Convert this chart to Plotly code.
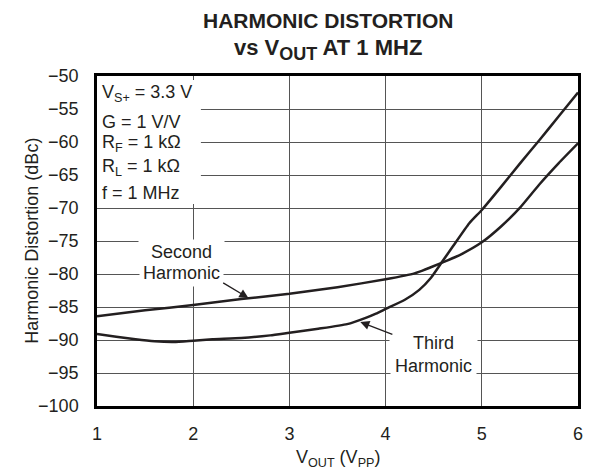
import plotly.graph_objects as go

# ---- data ----
x_tick_vals = [1, 2, 3, 4, 5, 6]
y_tick_vals = [-100, -95, -90, -85, -80, -75, -70, -65, -60, -55, -50]

second_vout = [1.0, 1.5, 2.0, 2.5, 3.0, 3.5, 4.0, 4.3, 4.6, 4.8, 5.0, 5.2, 5.4, 5.6, 5.8, 6.0]
second_dbc = [-86.4, -85.5, -84.7, -83.8, -83.0, -82.0, -80.8, -79.9, -78.2, -76.9, -75.2,
              -72.8, -69.9, -66.4, -63.2, -60.2]

third_vout = [1.0, 1.2, 1.4, 1.6, 1.8, 2.0, 2.2, 2.5, 2.8, 3.0, 3.3, 3.6, 3.8, 3.9, 4.0,
              4.2, 4.35, 4.47, 4.58, 4.7, 4.87, 5.0, 5.2, 5.4, 5.6, 5.8, 6.0]
third_dbc = [-89.1, -89.5, -89.9, -90.2, -90.3, -90.1, -89.9, -89.7, -89.3, -88.9, -88.3,
             -87.6, -86.6, -86.0, -85.3, -83.9, -82.4, -80.6, -78.3, -75.8, -72.3, -70.3,
             -66.8, -63.2, -59.7, -56.1, -52.5]

condition_lines = ["V<sub>S+</sub> = 3.3 V", "G = 1 V/V", "R<sub>F</sub> = 1 kΩ",
                   "R<sub>L</sub> = 1 kΩ", "f = 1 MHz"]
condition_y = [-52.65, -56.9, -60.3, -63.85, -67.75]

title_lines = ["<b>HARMONIC DISTORTION</b>",
               "<b>vs V<sub><span style='font-size:18px'>OUT</span></sub> AT 1 MHZ</b>"]
title_sizes = [21, 22]
title_y = [1.1682, 1.0818]

FONT = "Liberation Sans, Arial, sans-serif"
INK = "#231f20"
GRID = "#555555"

fig = go.Figure()

for xs, ys in [(second_vout, second_dbc), (third_vout, third_dbc)]:
    fig.add_trace(go.Scatter(x=xs, y=ys, mode="lines",
                             line=dict(color=INK, width=2.5, shape="spline", smoothing=0.5),
                             showlegend=False, hoverinfo="skip"))

# white panel behind the test conditions (hides gridlines)
fig.add_shape(type="rect", xref="x", yref="y", x0=1, x1=2.08, y0=-50.6, y1=-69.4,
              fillcolor="white", line=dict(width=0), layer="between")

annotations = []
for txt, sz, yv in zip(title_lines, title_sizes, title_y):
    annotations.append(dict(x=(330 - 97) / 486, y=yv, xref="paper", yref="paper", text=txt,
                            showarrow=False, xanchor="center", yanchor="middle",
                            font=dict(family=FONT, size=sz, color=INK)))

for txt, yv in zip(condition_lines, condition_y):
    annotations.append(dict(x=1, y=yv, xref="x", yref="y", text=txt, showarrow=False,
                            xanchor="left", yanchor="middle", xshift=3,
                            font=dict(family=FONT, size=18, color=INK)))

nb = "\u00a0"
label_specs = [
    (nb * 2 + "Second" + nb * 2, 1.874, -76.7, 2),
    ("Harmonic", 1.88, -79.85, 3),
    (nb * 4 + "Third" + nb * 4, 4.498, -90.5, 3),
    ("Harmonic", 4.498, -93.95, 4),
]
for txt, xv, yv, pad in label_specs:
    annotations.append(dict(x=xv, y=yv, xref="x", yref="y", text=txt, showarrow=False,
                            xanchor="center", yanchor="middle", bgcolor="white",
                            borderpad=pad, font=dict(family=FONT, size=18, color=INK)))

# arrows
for tip, tail in [((2.574, -83.64), (2.296, -81.2)), ((3.737, -87.27), (4.086, -89.24))]:
    annotations.append(dict(x=tip[0], y=tip[1], ax=tail[0], ay=tail[1], xref="x", yref="y",
                            axref="x", ayref="y", text="", showarrow=True, arrowhead=2,
                            arrowsize=1.4, arrowwidth=1.3, arrowcolor=INK))

# axis titles
annotations.append(dict(x=-0.1358, y=0.5, xref="paper", yref="paper",
                        text="Harmonic Distortion (dBc)", textangle=-90, showarrow=False,
                        xanchor="center", yanchor="middle",
                        font=dict(family=FONT, size=18, color=INK)))
annotations.append(dict(x=0.5, y=-0.158, xref="paper", yref="paper",
                        text="V<sub>OUT</sub> (V<sub>PP</sub>)", showarrow=False,
                        xanchor="center", yanchor="middle",
                        font=dict(family=FONT, size=18, color=INK)))

fig.update_layout(
    width=590, height=475,
    margin=dict(l=97, r=7, t=76, b=69),
    paper_bgcolor="white", plot_bgcolor="white",
    annotations=annotations,
    font=dict(family=FONT, size=18, color=INK),
)

fig.update_xaxes(range=[1, 6], tickvals=x_tick_vals, showgrid=True, gridcolor=GRID,
                 gridwidth=1.2, showline=True, mirror=True, linecolor="black",
                 linewidth=2.5, ticks="", ticklabelstandoff=10, zeroline=False,
                 tickfont=dict(family=FONT, size=18, color=INK))
fig.update_yaxes(range=[-100, -50], tickvals=y_tick_vals, showgrid=True, gridcolor=GRID,
                 gridwidth=1.2, showline=True, mirror=True, linecolor="black",
                 linewidth=2.5, ticks="", ticklabelstandoff=12, zeroline=False,
                 tickfont=dict(family=FONT, size=18, color=INK))

fig.write_html("out.html", config={"displayModeBar": False},
               post_script="document.body.style.margin='0';document.body.style.overflow='hidden';")
